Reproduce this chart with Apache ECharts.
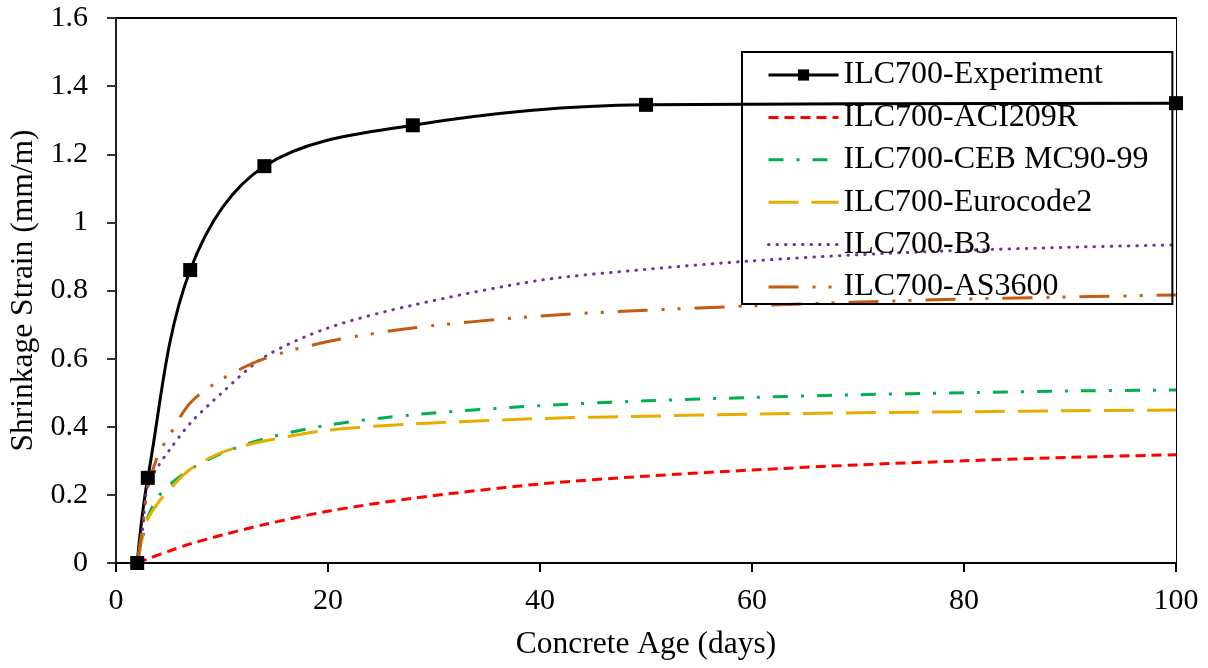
<!DOCTYPE html>
<html><head><meta charset="utf-8">
<script src="https://cdn.jsdelivr.net/npm/echarts@6/dist/echarts.min.js"></script>
<style>html,body{margin:0;padding:0;background:#fff}#c{width:1208px;height:668px}</style>
</head><body><div id="c"></div>
<script>
const expAge = [2, 3, 7, 14, 28, 50, 100];
const expStrain = [0, 0.25, 0.86, 1.165, 1.285, 1.345, 1.35];
const modelAge = [2, 2.5, 3, 4, 5, 7, 10, 14, 20, 28, 40, 50, 60, 70, 80, 90, 100];
const aci209r = [0, 0.006, 0.012, 0.024, 0.035, 0.056, 0.082, 0.113, 0.152, 0.19, 0.232, 0.255, 0.273, 0.288, 0.3, 0.31, 0.318];
const ceb = [0, 0.07, 0.135, 0.195, 0.228, 0.275, 0.322, 0.365, 0.405, 0.435, 0.462, 0.476, 0.486, 0.494, 0.5, 0.505, 0.508];
const eurocode2 = [0, 0.076, 0.13, 0.178, 0.215, 0.275, 0.325, 0.358, 0.39, 0.408, 0.424, 0.431, 0.437, 0.441, 0.444, 0.447, 0.449];
const b3 = [0, 0.097, 0.23, 0.285, 0.33, 0.41, 0.5, 0.605, 0.69, 0.757, 0.83, 0.862, 0.887, 0.905, 0.918, 0.927, 0.934];
const as3600 = [0, 0.105, 0.22, 0.32, 0.372, 0.47, 0.54, 0.6, 0.65, 0.69, 0.725, 0.742, 0.755, 0.766, 0.775, 0.781, 0.787];
const names = ['ILC700-Experiment', 'ILC700-ACI209R', 'ILC700-CEB MC90-99', 'ILC700-Eurocode2', 'ILC700-B3', 'ILC700-AS3600'];

const FONT = "'Liberation Serif', 'Times New Roman', serif";
const zip = (xs, ys) => xs.map((x, i) => [x, ys[i]]);
function model(name, ys, color, dash, cap) {
  return {
    name, type: 'line', data: zip(modelAge, ys), smooth: 0.3, symbol: 'none',
    lineStyle: { color, width: 3, type: dash, cap: cap || 'butt' },
    itemStyle: { color }, silent: true
  };
}
const legendData = names.map((n, i) => i === 0
  ? { name: n, lineStyle: { width: 3 } }
  : { name: n, itemStyle: { opacity: 0 }, lineStyle: { width: 3 } });

const chart = echarts.init(document.getElementById('c'), null, { renderer: 'canvas' });
chart.setOption({
  animation: false,
  backgroundColor: '#fff',
  textStyle: { fontFamily: FONT },
  grid: { left: 116, right: 32, top: 18, bottom: 105, outerBoundsMode: 'none', containLabel: false },
  legend: {
    left: 742, top: 52, orient: 'vertical',
    padding: [6, 24, 0, 25],
    itemWidth: 70, itemHeight: 14, itemGap: 8.4,
    borderColor: '#000', borderWidth: 2,
    textStyle: { fontFamily: FONT, fontSize: 32, color: '#000', lineHeight: 34 },
    data: legendData
  },
  xAxis: [{
    type: 'value', min: 0, max: 100, interval: 20,
    name: 'Concrete Age (days)', nameLocation: 'middle', nameGap: 66,
    nameTextStyle: { fontFamily: FONT, fontSize: 31.5, color: '#000' },
    axisLine: { onZero: false, lineStyle: { color: '#000', width: 2 } },
    axisTick: { show: true, length: 9, lineStyle: { color: '#000', width: 2 } },
    axisLabel: { fontFamily: FONT, fontSize: 30, color: '#000', margin: 23 },
    splitLine: { show: false }
  }, {
    type: 'value', position: 'top', min: 0, max: 100,
    axisLine: { show: true, onZero: false, lineStyle: { color: '#000', width: 2 } },
    axisTick: { show: false }, axisLabel: { show: false }, splitLine: { show: false }
  }],
  yAxis: [{
    type: 'value', min: 0, max: 1.6, interval: 0.2,
    name: 'Shrinkage Strain (mm/m)', nameLocation: 'middle', nameGap: 72, nameRotate: 90,
    nameTextStyle: { fontFamily: FONT, fontSize: 31.5, color: '#000' },
    axisLine: { show: true, onZero: false, lineStyle: { color: '#222', width: 2 } },
    axisTick: { show: true, length: 9, lineStyle: { color: '#333', width: 2 } },
    axisLabel: { fontFamily: FONT, fontSize: 30, color: '#000', margin: 28,
      formatter: v => String(parseFloat(v.toFixed(1))) },
    splitLine: { show: false }
  }, {
    type: 'value', position: 'right', min: 0, max: 1.6,
    axisLine: { show: true, onZero: false, lineStyle: { color: '#000', width: 1 } },
    axisTick: { show: false }, axisLabel: { show: false }, splitLine: { show: false }
  }],
  series: [
    {
      name: names[0], type: 'line', data: zip(expAge, expStrain), smooth: 0.35,
      symbol: 'rect', symbolSize: 14,
      lineStyle: { color: '#000', width: 3 }, itemStyle: { color: '#000' }
    },
    model(names[1], aci209r, '#ff0000', [10, 6]),
    model(names[2], ceb, '#00b050', [15, 13, 3, 13]),
    model(names[3], eurocode2, '#e6ac00', [30, 13]),
    model(names[4], b3, '#7030a0', [0.5, 8], 'round'),
    model(names[5], as3600, '#c55a11', [30, 14, 3, 13, 3, 14])
  ]
});
</script></body></html>
